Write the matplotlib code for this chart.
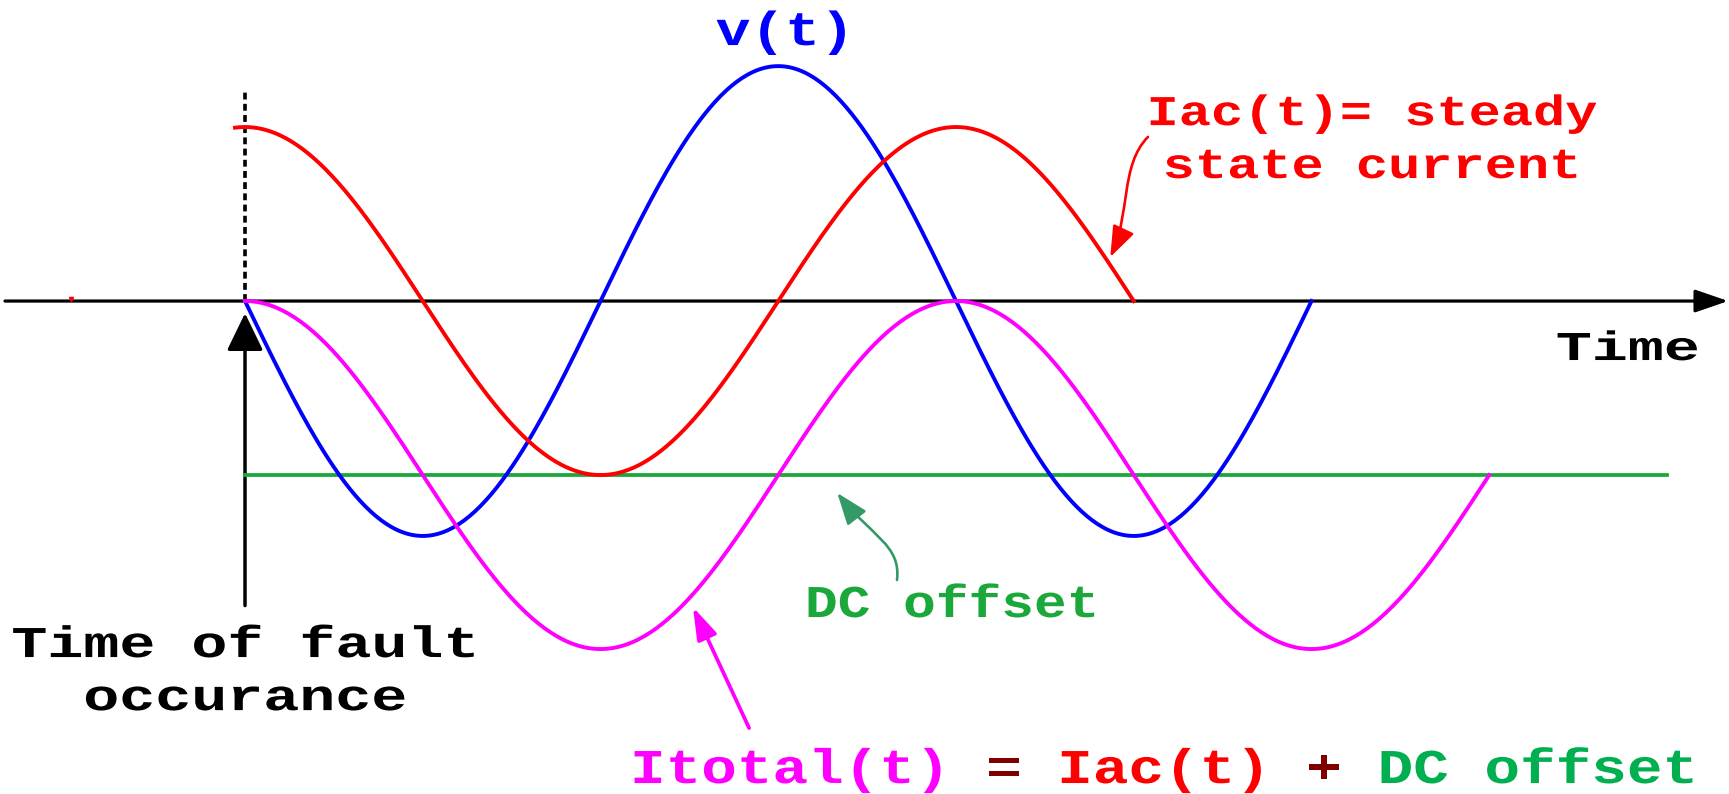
import numpy as np
import matplotlib
matplotlib.use("Agg")
import matplotlib.pyplot as plt
from matplotlib.patches import FancyArrowPatch
from matplotlib.path import Path
from matplotlib.patheffects import AbstractPathEffect
from matplotlib.transforms import Affine2D
from matplotlib.textpath import TextPath
from matplotlib.font_manager import FontProperties

# ---------------- data (time in cycles, amplitude in units of |Iac|) -------------
period = 1.0
v_amplitude = 1.35          # v(t) peak
iac_amplitude = 1.0         # steady state current peak
dc_offset = -1.0            # DC offset level
v_span = (0.0, 1.5)         # v(t) drawn from fault instant for 1.5 cycles
iac_span = (-0.014, 1.25)
itotal_span = (0.0, 1.75)
dc_span = (0.0, 2.0)
fault_time = 0.0
stray_mark_t = -0.245       # small red mark on the time axis

FONT = "Liberation Mono"
fp = FontProperties(family=FONT, weight="bold", size=100)
CAP_RATIO = TextPath((0, 0), "H", prop=fp).get_extents().height / 100.0
ADV_RATIO = 0.6

W, H = 1729, 794
PX_PER_T = 711.0
fig = plt.figure(figsize=(W / 100, H / 100), dpi=100)
ax = fig.add_axes([0, 0, 1, 1])
ax.set_xlim(-0.3446, 2.0872)
ax.set_ylim(-2.833, 1.730)
ax.axis("off")


class StretchX(AbstractPathEffect):
    def __init__(self, sx, x, y):
        super().__init__()
        self.sx, self.x, self.y = sx, x, y

    def draw_path(self, renderer, gc, tpath, affine, rgbFace=None):
        cx = ax.transData.transform((self.x, self.y))[0]
        tr = affine + Affine2D().translate(-cx, 0).scale(self.sx, 1).translate(cx, 0)
        renderer.draw_path(gc, tpath, tr, rgbFace)


def label(x, y, s, color, cap_px, adv_px, ha="center"):
    em_px = cap_px / CAP_RATIO
    size = em_px * 0.72
    sx = adv_px / (ADV_RATIO * em_px)
    ax.text(x, y, s, color=color, fontsize=size, family=FONT, weight="bold",
            ha=ha, va="baseline", path_effects=[StretchX(sx, x, y)], zorder=10)


# ---------------- axes lines ----------------
ax.annotate("", xy=(2.086, 0.0), xytext=(-0.3376, 0.0),
            arrowprops=dict(arrowstyle="-|>,head_length=1.45,head_width=0.5",
                            mutation_scale=14, color="black", lw=2.3,
                            shrinkA=0, shrinkB=0), zorder=3)
ax.plot([fault_time, fault_time], [0.0, 1.22], color="black", lw=2.6,
        linestyle=(0, (1.9, 1.2)), zorder=3)
ax.annotate("", xy=(fault_time, -0.07), xytext=(fault_time, -1.75),
            arrowprops=dict(arrowstyle="-|>,head_length=1.65,head_width=0.8",
                            mutation_scale=14, color="black", lw=2.5,
                            shrinkA=0, shrinkB=0), zorder=3)
ax.plot([stray_mark_t], [0.012], marker="v", color="red", markersize=3,
        linestyle="none", zorder=4)

# ---------------- waveforms ----------------
t_dc = np.linspace(*dc_span, 50)
ax.plot(t_dc, np.full_like(t_dc, dc_offset), color="#1aa83a", lw=2.7, zorder=4)

t_v = np.linspace(*v_span, 400)
ax.plot(t_v, -v_amplitude * np.sin(2 * np.pi * t_v / period), color="#0000ff",
        lw=2.8, zorder=5)

t_i = np.linspace(*iac_span, 400)
ax.plot(t_i, iac_amplitude * np.cos(2 * np.pi * t_i / period), color="#ff0000",
        lw=2.8, zorder=5)

t_tot = np.linspace(*itotal_span, 400)
ax.plot(t_tot, iac_amplitude * np.cos(2 * np.pi * t_tot / period) + dc_offset,
        color="#ff00ff", lw=2.8, zorder=5)

# ---------------- annotation arrows ----------------
red_path = Path([(1.270, 0.943), (1.231, 0.782), (1.245, 0.494), (1.217, 0.253)],
                [Path.MOVETO, Path.CURVE4, Path.CURVE4, Path.CURVE4])
ax.add_patch(FancyArrowPatch(path=red_path,
                             arrowstyle="-|>,head_length=1.35,head_width=0.5",
                             mutation_scale=14, color="#ff0000", lw=1.9, zorder=6))

green_path = Path([(0.917, -1.603), (0.923, -1.40), (0.880, -1.35), (0.833, -1.103)],
                  [Path.MOVETO, Path.CURVE4, Path.CURVE4, Path.CURVE4])
ax.add_patch(FancyArrowPatch(path=green_path,
                             arrowstyle="-|>,head_length=1.4,head_width=0.52",
                             mutation_scale=14, color="#339966", lw=1.9, zorder=6))

ax.annotate("", xy=(0.630, -1.759), xytext=(0.709, -2.454),
            arrowprops=dict(arrowstyle="-|>,head_length=1.4,head_width=0.45",
                            mutation_scale=14, color="#ff00ff", lw=2.7,
                            shrinkA=0, shrinkB=0), zorder=6)

# ---------------- labels ----------------
label(0.7595, 1.471, "v(t)", "#0000ff", 31.5, 34.7)
label(1.585, 1.011, "Iac(t)= steady", "#ff0000", 28, 32.2)
label(1.585, 0.707, "state current", "#ff0000", 28, 32.2)
label(1.945, -0.339, "Time", "black", 27, 36)
label(0.0, -2.046, "Time of fault", "black", 29, 36)
label(0.0, -2.351, "occurance", "black", 29, 36)
label(0.994, -1.816, "DC offset", "#1aa83a", 30, 32.7)

bx, by = 0.5415, -2.770
adv_bottom = 35.6
pieces = [(0, "Itotal(t)", "#ff00ff"), (10, "=", "#800000"),
          (12, "Iac(t)", "#ff0000"), (19, "+", "#800000"),
          (21, "DC offset", "#00b050")]
for k, s, c in pieces:
    label(bx + k * adv_bottom / PX_PER_T, by, s, c, 32, adv_bottom, ha="left")

fig.savefig("out.png", dpi=100)
